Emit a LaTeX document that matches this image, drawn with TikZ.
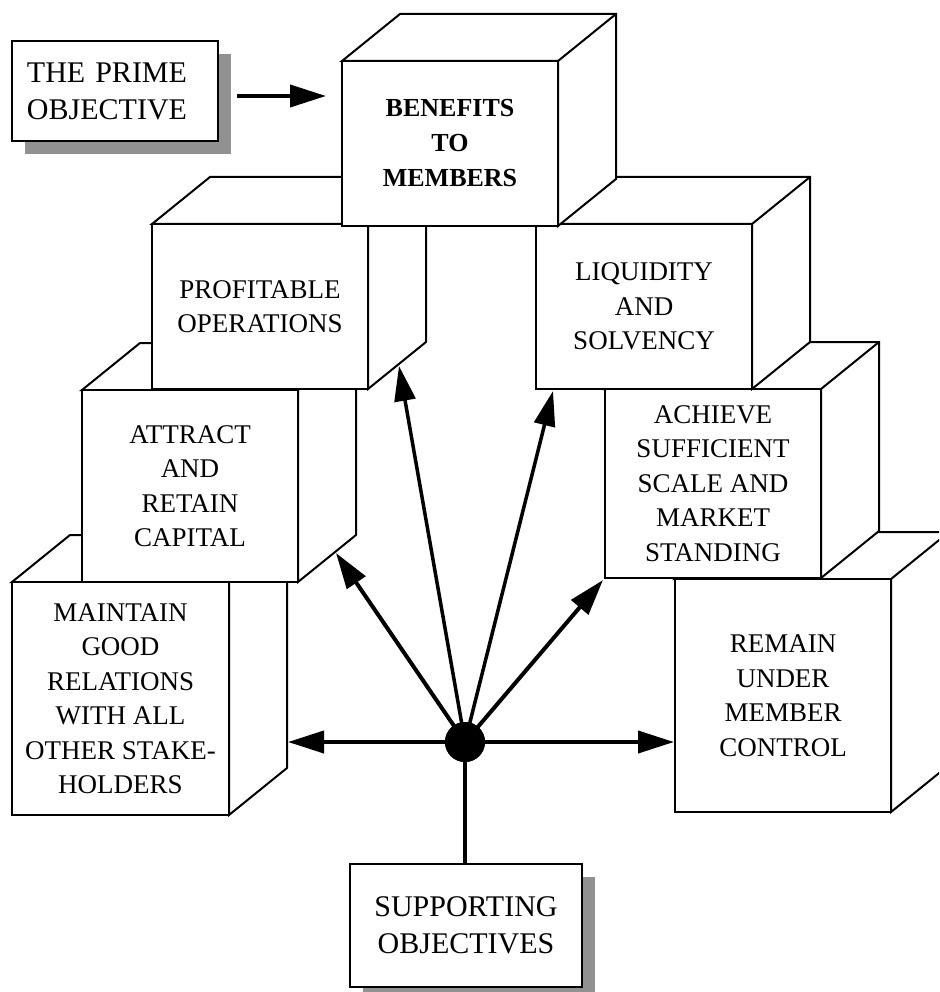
\documentclass[tikz,border=0pt]{standalone}
\usepackage{fontspec}
\setmainfont{Liberation Serif}
\usetikzlibrary{arrows.meta,calc,shadows}
\newcommand\drawcube[7]{%
  % #1 name, #2 x1, #3 y1, #4 x2, #5 y2, #6 extra style, #7 text
  \draw[side] (#2,#3) -- ++(58,-47) -- ({#4+58},{#3-47}) -- ({#4+58},{#5-47}) -- (#4,#5) -- (#4,#3) -- cycle;
  \draw[side] (#4,#3) -- ++(58,-47);
  \node[face,#6,minimum width={(#4-#2)*1pt},minimum height={(#5-#3)*1pt}] (#1) at ({(#2+#4)/2},{(#3+#5)/2}) {#7};
}
\begin{document}
\begin{tikzpicture}[x=1pt,y=-1pt,
  side/.style={draw,fill=white,line width=2pt},
  face/.style={draw,fill=white,line width=2pt,inner sep=0pt,align=center,
    font=\fontsize{27}{34.5}\selectfont},
  boldface/.style={font=\fontsize{26}{35}\selectfont\bfseries},
  labelbox/.style={draw,fill=white,line width=2pt,font=\fontsize{30}{37}\selectfont,
    drop shadow={shadow xshift=13pt,shadow yshift=-13pt,fill=black!43,opacity=1}},
  arr/.style={line width=4pt,-{Triangle[length=36pt,width=22pt]}},
  thinarr/.style={line width=3.5pt,-{Triangle[length=35pt,width=21pt]}},
  hubdot/.style={circle,fill=black,minimum size=40pt,inner sep=0pt}]
\useasboundingbox (0,0) rectangle (939,992);
\clip (0,0) rectangle (939,992);

% cubes, back to front
\drawcube{maintain}{12}{582}{229}{815}{}{MAINTAIN\\GOOD\\RELATIONS\\WITH ALL\\OTHER STAKE-\\HOLDERS}
\drawcube{remain}{675}{579}{891}{812}{}{REMAIN\\UNDER\\MEMBER\\CONTROL}
\drawcube{attract}{82}{390}{298}{582}{}{ATTRACT\\AND\\RETAIN\\CAPITAL}
\drawcube{achieve}{605}{389}{821}{578}{}{ACHIEVE\\SUFFICIENT\\SCALE AND\\MARKET\\STANDING}
\drawcube{prof}{152}{224}{368}{389}{}{PROFITABLE\\OPERATIONS}
\drawcube{liq}{536}{224}{752}{389}{}{LIQUIDITY\\AND\\SOLVENCY}
\drawcube{benefits}{342}{61}{558}{226}{boldface}{BENEFITS\\TO\\MEMBERS}

% label boxes
\node[labelbox,minimum width=206pt,minimum height=100pt,text width=176pt,
  inner xsep=15pt,align=left] (prime) at (115,91) {THE PRIME\\OBJECTIVE};
\node[labelbox,minimum width=232pt,minimum height=123pt,inner sep=0pt,
  align=center] (support) at (466,925.5) {SUPPORTING\\OBJECTIVES};

% hub
\node[hubdot] (hub) at (465,742) {};

% connectors
\coordinate (pa) at ([yshift=-5pt]prime.east);
\draw[arr,shorten <=18pt,shorten >=15pt] (pa) -- (pa -| benefits.west);
\draw[line width=4pt] (hub) -- (hub |- support.north);
\draw[arr] (hub) -- ($(hub -| maintain.east)+(58,0)$);
\draw[arr] (hub) -- (hub -| remain.west);
\draw[thinarr] (hub.center) -- ($(prof.south east)+(30,-24)$);
\draw[arr] (hub.center) -- ($(attract.south east)+(37,-30)$);
\draw[thinarr] (hub.center) -- ($(liq.south west)+(18,1)$);
\draw[arr] (hub.center) -- ($(achieve.south west)+(-1,1)$);
\node[hubdot] at (hub) {};
\end{tikzpicture}
\end{document}
